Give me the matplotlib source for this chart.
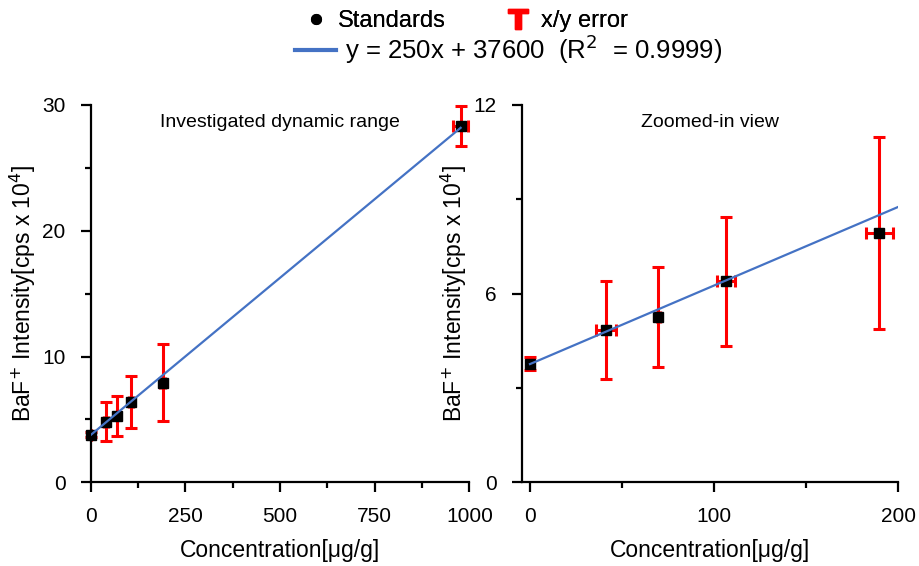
import numpy as np
import matplotlib
matplotlib.use('Agg')
import matplotlib.pyplot as plt
from matplotlib.lines import Line2D
from matplotlib.ticker import MultipleLocator

plt.rcParams['font.family'] = ['Liberation Sans', 'DejaVu Sans']

# Standards: concentration [ug/g] and BaF+ intensity [cps x 10^4]
conc = [0, 41.3, 69.7, 106.2, 189.7, 977]
conc_err = [0, 5.4, 1.0, 4.9, 7.4, 20]
intensity = [3.77, 4.83, 5.26, 6.39, 7.92, 28.35]
intensity_err = [0.2, 1.56, 1.6, 2.05, 3.05, 1.6]

# linear fit y = 250x + 37600 (cps) -> in units of 10^4
slope = 250 / 1e4
intercept = 37600 / 1e4

red = '#ff0000'
blue = '#4472c4'

fig = plt.figure(figsize=(9.19, 5.66), dpi=100)
ax1 = fig.add_axes([0.0987, 0.1479, 0.412, 0.6666])
ax2 = fig.add_axes([0.5677, 0.1479, 0.4098, 0.6666])

# axis, xlim, ylim, x major/minor, y major/minor, title, fit end, number of points
panels = [
    (ax1, (0, 1000), (0, 30), 250, 125, 10, 5, 'Investigated dynamic range', conc[-1], len(conc)),
    (ax2, (-4.5, 200), (0, 12), 100, 50, 6, 3, 'Zoomed-in view', 200, len(conc) - 1),
]

for ax, xlim, ylim, xmaj, xmin, ymaj, ymin, title, xend, n in panels:
    xfit = np.array([0, xend])
    ax.plot(xfit, slope * xfit + intercept, color=blue, lw=1.6, zorder=3)
    ax.errorbar(conc[:n], intensity[:n], xerr=conc_err[:n], yerr=intensity_err[:n],
                fmt='s', color='black', ms=6.5, ecolor=red, elinewidth=2.2,
                capsize=4.5, capthick=2.2, zorder=2, clip_on=False)
    ax.set_xlim(*xlim)
    ax.set_ylim(*ylim)
    ax.xaxis.set_major_locator(MultipleLocator(xmaj))
    ax.xaxis.set_minor_locator(MultipleLocator(xmin))
    ax.yaxis.set_major_locator(MultipleLocator(ymaj))
    ax.yaxis.set_minor_locator(MultipleLocator(ymin))
    ax.spines['top'].set_visible(False)
    ax.spines['right'].set_visible(False)
    for s in ['left', 'bottom']:
        ax.spines[s].set_linewidth(1.6)
    ax.tick_params(which='major', direction='out', length=7, width=1.6, labelsize=15, pad=11)
    ax.tick_params(which='minor', direction='out', length=4, width=1.6)
    ax.set_xlabel('Concentration[μg/g]', fontsize=16.5, labelpad=9)
    ax.set_ylabel('BaF$^{+}$ Intensity[cps x 10$^{4}$]', fontsize=16.5, labelpad=3)
    ax.text(0.5, 0.975, title, transform=ax.transAxes, ha='center', va='top', fontsize=14)

# legend at top
h_std = Line2D([], [], marker='o', color='black', linestyle='none', markersize=7)
h_err = Line2D([], [], marker=r'$\mathbf{T}$', color=red, linestyle='none', markersize=15)
leg1 = fig.legend([h_std, h_err], ['Standards', 'x/y error'], loc='center',
                  bbox_to_anchor=(0.505, 0.963), ncol=2, frameon=False, fontsize=17,
                  handletextpad=0.3, columnspacing=2.4, handlelength=1.3)
fig.add_artist(leg1)
h_fit = Line2D([], [], color=blue, lw=3)
fig.legend([h_fit], ['y = 250x + 37600  (R$^{2}$  = 0.9999)'], loc='center',
           bbox_to_anchor=(0.553, 0.913), frameon=False, fontsize=18.5,
           handletextpad=0.35, handlelength=1.6)

plt.savefig('out.png', dpi=100)
